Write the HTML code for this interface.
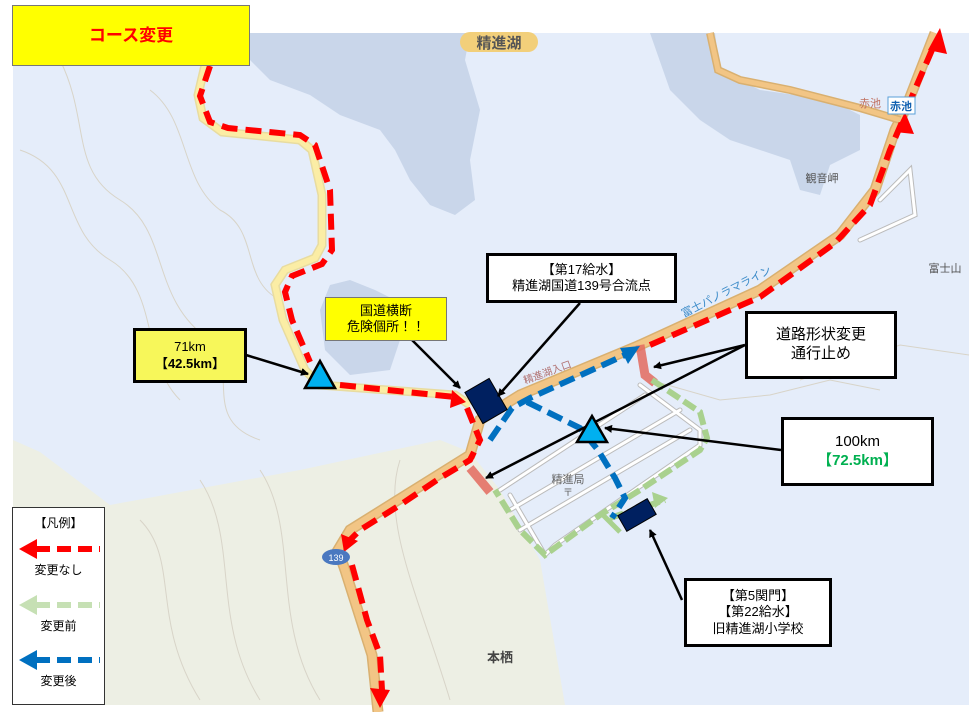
<!DOCTYPE html>
<html><head><meta charset="utf-8"><style>
body{margin:0;background:#fff;width:980px;height:712px;overflow:hidden;font-family:"Liberation Sans","Noto Sans CJK JP",sans-serif}
svg{position:absolute;left:0;top:0}
.bx{position:absolute;box-sizing:border-box;text-align:center;color:#000;display:flex;flex-direction:column;justify-content:center;align-items:center;line-height:1.25}
.lg{position:absolute;left:12px;width:93px;text-align:center;font-size:12px}
</style></head><body>
<svg width="980" height="712" viewBox="0 0 980 712">
<defs>
<marker id="ar" markerWidth="8" markerHeight="8" refX="7" refY="4" orient="auto" markerUnits="userSpaceOnUse"><path d="M0,0 L8,4 L0,8 z" fill="#000"/></marker>
</defs>
<rect x="13" y="33" width="956" height="672" fill="#e5edfa"/>
<path d="M13,440 L40,452 L110,505 L300,470 L440,440 L470,452 L500,490 L540,560 L565,705 L13,705 Z" fill="#edefe4"/>
<g fill="none" stroke="#d8d4c8" stroke-width="1">
<path d="M60,60 C90,120 70,170 120,200 C170,230 150,300 210,340 C240,370 200,420 260,440"/>
<path d="M20,150 C80,170 60,230 110,260 C160,290 140,360 180,400"/>
<path d="M150,90 C190,120 180,180 220,210 C260,230 240,280 280,300"/>
<path d="M140,520 C180,560 150,620 200,700"/>
<path d="M200,480 C240,540 210,620 260,700"/>
<path d="M260,470 C300,530 270,620 320,700"/>
<path d="M400,460 C380,520 420,600 450,700"/>
<path d="M800,380 L900,345 L969,355"/>
<path d="M650,380 L720,400 L770,395 L830,380 L880,390"/>
</g>
<path d="M245,33 L470,33 L465,60 L480,110 L470,160 L475,200 L455,215 L430,205 L410,180 L395,150 L380,130 L340,115 L310,95 L270,80 L250,60 Z" fill="#c9d6ea"/>
<path d="M650,33 L715,33 L720,70 L760,90 L830,100 L860,115 L860,150 L830,165 L820,195 L800,190 L790,160 L760,150 L730,140 L700,120 L670,90 Z" fill="#c9d6ea"/>
<path d="M330,285 L350,280 L375,290 L395,300 L400,340 L390,370 L350,375 L325,350 L320,310 Z" fill="#c9d6ea"/>
<g fill="none" stroke="#bbb" stroke-width="5" stroke-linecap="round"><path d="M500,490 L645,395 M510,510 L680,410 M520,530 L690,430 M640,385 L700,430 L700,445 L555,545 L545,555 L510,495 M880,200 L910,170 L915,215 L860,240"/></g>
<g fill="none" stroke="#fff" stroke-width="3" stroke-linecap="round"><path d="M500,490 L645,395 M510,510 L680,410 M520,530 L690,430 M640,385 L700,430 L700,445 L555,545 L545,555 L510,495 M880,200 L910,170 L915,215 L860,240"/></g>
<path d="M205,65 L198,95 L203,118 L222,132 L300,140 L312,150 L322,195 L322,245 L315,258 L285,270 L275,285 L283,320 L305,370 L320,385 L455,395 L470,405" fill="none" stroke="#e8dca0" stroke-width="9"/>
<path d="M205,65 L198,95 L203,118 L222,132 L300,140 L312,150 L322,195 L322,245 L315,258 L285,270 L275,285 L283,320 L305,370 L320,385 L455,395 L470,405" fill="none" stroke="#fbeda5" stroke-width="6"/>
<path d="M378,712 L372,655 L345,570 L338,550 L350,530 L470,455 L480,420 L520,395 L640,345 L760,290 L840,235 L875,190 L895,130 L905,110 L935,33" fill="none" stroke="#d9b070" stroke-width="11"/>
<path d="M378,712 L372,655 L345,570 L338,550 L350,530 L470,455 L480,420 L520,395 L640,345 L760,290 L840,235 L875,190 L895,130 L905,110 L935,33" fill="none" stroke="#f2c585" stroke-width="8"/>
<path d="M710,33 L718,70 L740,80 L790,90 L860,108 L900,120" fill="none" stroke="#d9b070" stroke-width="8"/>
<path d="M710,33 L718,70 L740,80 L790,90 L860,108 L900,120" fill="none" stroke="#f2c585" stroke-width="5"/>
<path d="M640,345 L645,375 L655,383" stroke="#e36a5e" stroke-width="9" fill="none" opacity=".85"/>
<path d="M470,468 L490,492" stroke="#e36a5e" stroke-width="9" fill="none" opacity=".85"/>
<path d="M652,380 L700,412 L707,438 L700,450 L640,490 L600,515 L545,555 L520,530 L495,490" fill="none" stroke="#a9d18e" stroke-width="6" stroke-dasharray="14,5"/>
<path d="M610,518 L665,500" fill="none" stroke="#a9d18e" stroke-width="6" stroke-dasharray="14,5"/>
<path d="M668,498 L652,492 L655,508 Z" fill="#a9d18e"/>
<path d="M603,515 L620,532" fill="none" stroke="#a9d18e" stroke-width="5"/>
<g fill="none" stroke="#ff0000" stroke-width="6" stroke-dasharray="16,8">
<path d="M210,66 L200,96 L210,122 L228,128 L300,135 L315,145 L330,190 L332,250 L322,264 L292,276 L285,292 L292,320 L310,362"/>
<path d="M340,385 L455,397"/>
<path d="M467,408 L480,440 L470,460 L440,478 L400,505 L360,530 L348,542"/>
<path d="M352,565 L367,620 L380,655 L382,690"/>
<path d="M650,345 L760,297 L835,243 L870,205 L890,150 L902,122"/>
<path d="M907,108 L932,50"/>
</g>
<g fill="#ff0000">
<path d="M466,402 L452,390 L450,408 Z"/>
<path d="M344,552 L341,534 L358,541 Z"/>
<path d="M380,708 L370,688 L390,690 Z"/>
<path d="M905,112 L895,132 L914,134 Z"/>
<path d="M940,28 L928,50 L947,54 Z"/>
</g>
<g fill="none" stroke="#0070c0" stroke-width="6" stroke-dasharray="16,7">
<path d="M490,440 L512,408 L530,398 L625,355"/>
<path d="M527,402 L580,428 L598,450 L615,478 L625,498 L612,518"/>
</g>
<path d="M640,346 L620,348 L628,364 Z" fill="#0070c0"/>
<rect x="472" y="383" width="28" height="36" fill="#002060" stroke="#000" transform="rotate(-30 486 401)"/>
<rect x="620" y="506" width="34" height="18" fill="#002060" stroke="#000" transform="rotate(-30 637 515)"/>
<g stroke="#000" stroke-width="2.5" fill="none" marker-end="url(#ar)">
<path d="M246,355 L308,374"/>
<path d="M412,340 L460,388"/>
<path d="M580,303 L498,396"/>
<path d="M745,345 L654,367"/>
<path d="M745,345 L486,478"/>
<path d="M781,450 L605,428"/>
<path d="M682,600 L650,530"/>
</g>
<path d="M320,361 L335,388 L305,388 Z" fill="#00b0f0" stroke="#000" stroke-width="2.5"/>
<path d="M592,416 L607,442 L577,442 Z" fill="#00b0f0" stroke="#000" stroke-width="2.5"/>
<rect x="460" y="32" width="78" height="20" rx="10" fill="#f2cf7a"/>
<text x="499" y="48" font-size="15" font-weight="bold" fill="#555" text-anchor="middle">精進湖</text>
<text x="525" y="384" font-size="10" fill="#b07070" transform="rotate(-20 525 384)">精進湖入口</text>
<text x="728" y="295" font-size="11" fill="#3a8ac8" transform="rotate(-27 728 295)" text-anchor="middle">富士パノラマライン</text>
<text x="568" y="483" font-size="11" fill="#666" text-anchor="middle">精進局</text>
<text x="568" y="496" font-size="10" fill="#666" text-anchor="middle">〒</text>
<text x="870" y="107" font-size="11" fill="#c07060" text-anchor="middle">赤池</text>
<rect x="888" y="97" width="27" height="17" fill="#fff" stroke="#5aa0d8"/>
<text x="901" y="110" font-size="11" fill="#1060b0" text-anchor="middle" font-weight="bold">赤池</text>
<text x="822" y="182" font-size="11" fill="#555" text-anchor="middle">観音岬</text>
<text x="945" y="272" font-size="11" fill="#555" text-anchor="middle">富士山</text>
<ellipse cx="336" cy="557" rx="14" ry="8" fill="#4a78c0"/>
<text x="336" y="561" font-size="9" fill="#fff" text-anchor="middle">139</text>
<text x="500" y="662" font-size="13" font-weight="bold" fill="#444" text-anchor="middle">本栖</text>
<!-- legend -->
<rect x="12.5" y="507.5" width="92" height="197" fill="#fff" stroke="#333"/>
<g stroke-width="6" fill="none" stroke-dasharray="14,7">
<path d="M36,549 L100,549" stroke="#ff0000"/>
<path d="M36,605 L100,605" stroke="#c6e0b4"/>
<path d="M36,660 L100,660" stroke="#0070c0"/>
</g>
<path d="M19,549 L37,539 L37,559 Z" fill="#ff0000"/>
<path d="M19,605 L37,595 L37,615 Z" fill="#c6e0b4"/>
<path d="M19,660 L37,650 L37,670 Z" fill="#0070c0"/>
</svg>
<div class="bx" style="left:12px;top:5px;width:238px;height:61px;background:#ffff00;border:1px solid #777;color:#f00;font-weight:bold;font-size:17px">コース変更</div>
<div class="bx" style="left:133px;top:328px;width:114px;height:55px;background:#f7f75a;border:3px solid #000;font-size:13px">71km<br><b>【42.5km】</b></div>
<div class="bx" style="left:325px;top:297px;width:122px;height:44px;background:#ffff00;border:1px solid #777;font-size:13px">国道横断<br>危険個所！！</div>
<div class="bx" style="left:486px;top:253px;width:191px;height:50px;background:#fff;border:3px solid #000;font-size:13px">【第17給水】<br>精進湖国道139号合流点</div>
<div class="bx" style="left:745px;top:311px;width:152px;height:68px;background:#fff;border:3px solid #000;font-size:15px">道路形状変更<br>通行止め</div>
<div class="bx" style="left:781px;top:417px;width:153px;height:69px;background:#fff;border:3px solid #000;font-size:15px">100km<br><b style="color:#00b050">【72.5km】</b></div>
<div class="bx" style="left:684px;top:578px;width:148px;height:69px;background:#fff;border:3px solid #000;font-size:13px">【第5関門】<br>【第22給水】<br>旧精進湖小学校</div>
<div class="lg" style="top:514px">【凡例】</div>
<div class="lg" style="top:561px">変更なし</div>
<div class="lg" style="top:617px">変更前</div>
<div class="lg" style="top:672px">変更後</div>
</body></html>
